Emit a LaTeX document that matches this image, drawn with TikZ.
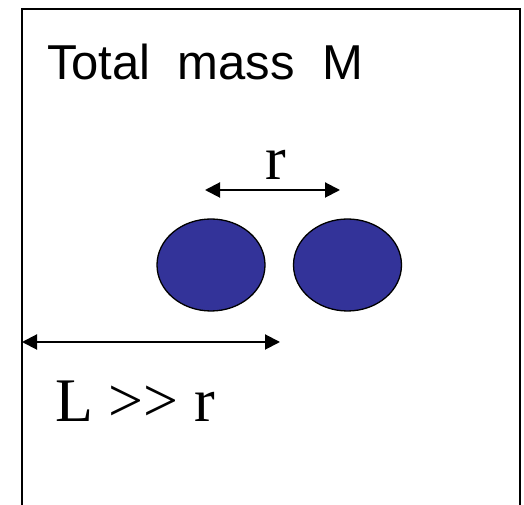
\documentclass[tikz,border=0pt]{standalone}
\usepackage{fontspec}
\setmainfont{Liberation Serif}
\newfontfamily\arialfont{Liberation Sans}
\usetikzlibrary{arrows.meta,shapes.geometric}
\definecolor{ballblue}{HTML}{333399}
\tikzset{
  frameline/.style={line width=2pt, black},
  ball/.style={ellipse, draw=black, line width=1.3pt, fill=ballblue, minimum width=108pt, minimum height=92pt, inner sep=0pt},
  dimarrow/.style={line width=2pt, {Triangle[length=15pt,width=15pt]}-{Triangle[length=15pt,width=15pt]}},
  sanslabel/.style={font=\arialfont\fontsize{49}{57}\selectfont, inner sep=0pt, anchor=base west},
  seriflabel/.style={font=\fontsize{62}{70}\selectfont, inner sep=0pt}
}
\begin{document}
\begin{tikzpicture}[x=1pt,y=1pt]
\useasboundingbox (0,0) rectangle (524,505);
% frame (open at bottom)
\coordinate (bl) at (22,0);
\coordinate (tl) at (22,496);
\coordinate (tr) at (520,496);
\coordinate (br) at (520,0);
\draw[frameline] (bl) -- (tl) -- (tr) -- (br);
% title
\node[sanslabel] (title) at (47,425) {Total\ \ mass\ \ M};
% balls
\node[ball] (b1) at (211,240) {};
\node[ball] (b2) at (347.5,240) {};
% r arrow
\coordinate (ra) at (205,315);
\coordinate (rb) at (340,315);
\draw[dimarrow] (ra) -- (rb);
\node[seriflabel, anchor=base] (rlab) at (276,325) {r};
% L arrow
\coordinate (la) at (22,163);
\coordinate (lb) at (280,163);
\draw[dimarrow] (la) -- (lb);
\node[seriflabel, anchor=base west] (Llab) at (55,83) {L >{}> r};
\end{tikzpicture}
\end{document}
